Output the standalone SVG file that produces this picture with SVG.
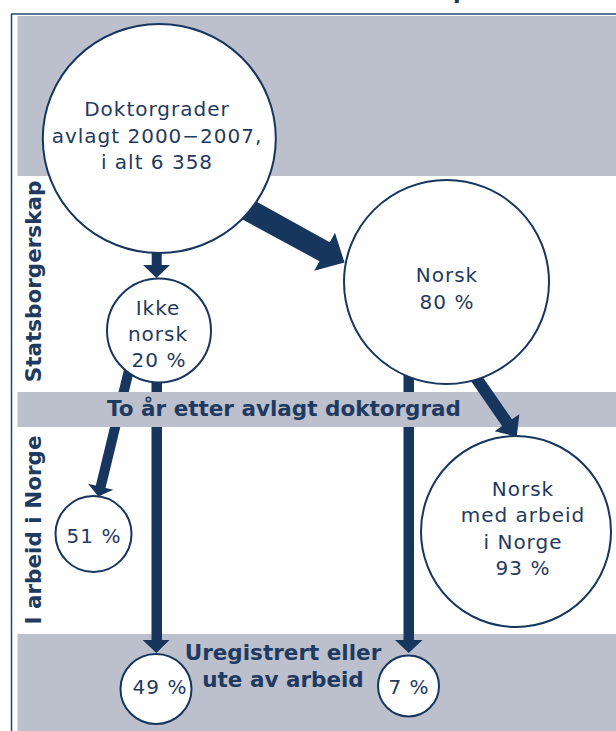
<svg xmlns="http://www.w3.org/2000/svg" width="616" height="731" viewBox="0 0 616 731">
<style>
.band{fill:#bcbfcc}
.node{fill:#ffffff;stroke:#17365d;stroke-width:2}
.arrow{fill:#17365d}
.t{font-family:"DejaVu Sans","Verdana",sans-serif;font-size:20px;letter-spacing:1px;fill:#1f3a60;text-anchor:middle}
.b{font-family:"DejaVu Sans","Verdana",sans-serif;font-size:21.5px;font-weight:bold;fill:#1f3a60;text-anchor:middle}
</style>
<rect x="0" y="0" width="616" height="731" fill="#ffffff"/>
<text x="453" y="-1" style="font-family:'DejaVu Sans',sans-serif;font-size:22px;font-weight:bold;fill:#17365d">p</text>
<g id="frame">
<rect class="band" x="17.5" y="16" width="598.5" height="160"/>
<rect class="band" x="17.5" y="392" width="598.5" height="35"/>
<rect class="band" x="17.5" y="634" width="598.5" height="97"/>
<line x1="11" y1="14" x2="616" y2="14" stroke="#2b4468" stroke-width="1.5"/>
<line x1="11.5" y1="14" x2="11.5" y2="731" stroke="#2b4468" stroke-width="1.5"/>
</g>
<g id="labels">
<text class="b" transform="translate(40.5,281.5) rotate(-90)">Statsborgerskap</text>
<text class="b" transform="translate(40.5,530) rotate(-90)">I arbeid i Norge</text>
<text class="b" x="284" y="416">To år etter avlagt doktorgrad</text>
<text class="b" x="283" y="660">Uregistrert eller</text>
<text class="b" x="283" y="687">ute av arbeid</text>
</g>
<g id="connectors">
<polygon class="arrow" points="225.05,209.99 319.48,261.21 314.28,270.79 344.5,262.5 334.98,232.65 329.78,242.23 235.35,190.01"/>
<polygon class="arrow" points="151.7,240 151.7,265 143,265 156.5,278 170,265 161.7,265 161.7,240"/>
<path class="arrow" d="M126.48,359.24 L136.2,361.6 L128.82,392 L118.53,392 Z M110.03,427 L120.32,427 L105.52,487.96 L113.3,489.85 L98.3,496.5 L88.02,483.71 L95.8,485.6 Z"/>
<path class="arrow" d="M151.5,370 H162 V392 H151.5 Z M151.5,427 H162 V640 H169.5 L156.3,653 L142.7,640 H151.5 Z"/>
<path class="arrow" d="M403.5,370 H414 V392 H403.5 Z M403.5,427 H414 V640 H422.5 L408.7,653 L395,640 H403.5 Z"/>
<polygon class="arrow" points="460.56,366.01 502.09,426.12 494.68,431.25 516.7,436.7 519.38,414.17 511.97,419.3 470.44,359.19"/>
</g>
<g id="n-total">
<ellipse class="node" cx="159.3" cy="138.5" rx="116.5" ry="114.5"/>
<text class="t" x="157" y="116">Doktorgrader</text>
<text class="t" x="157" y="143">avlagt 2000−2007,</text>
<text class="t" x="157" y="169">i alt 6 358</text>
</g>
<g id="n-ikke-norsk">
<circle class="node" cx="159" cy="330.5" r="52"/>
<text class="t" x="158" y="315">Ikke</text>
<text class="t" x="158" y="341">norsk</text>
<text class="t" x="159" y="367">20 %</text>
</g>
<g id="n-norsk">
<ellipse class="node" cx="446.5" cy="282" rx="102.5" ry="102"/>
<text class="t" x="447" y="282">Norsk</text>
<text class="t" x="447" y="309">80 %</text>
</g>
<g id="n-51">
<circle class="node" cx="93.5" cy="534" r="38"/>
<text class="t" x="94" y="543">51 %</text>
</g>
<g id="n-49">
<ellipse class="node" cx="156" cy="689" rx="35.5" ry="35"/>
<text class="t" x="160" y="694">49 %</text>
</g>
<g id="n-7">
<circle class="node" cx="408.5" cy="686" r="30.5"/>
<text class="t" x="409" y="694">7 %</text>
</g>
<g id="n-norsk-arbeid">
<ellipse class="node" cx="516" cy="531.5" rx="95" ry="95.5"/>
<text class="t" x="523" y="496">Norsk</text>
<text class="t" x="523" y="522">med arbeid</text>
<text class="t" x="523" y="549">i Norge</text>
<text class="t" x="523" y="575">93 %</text>
</g>
</svg>
